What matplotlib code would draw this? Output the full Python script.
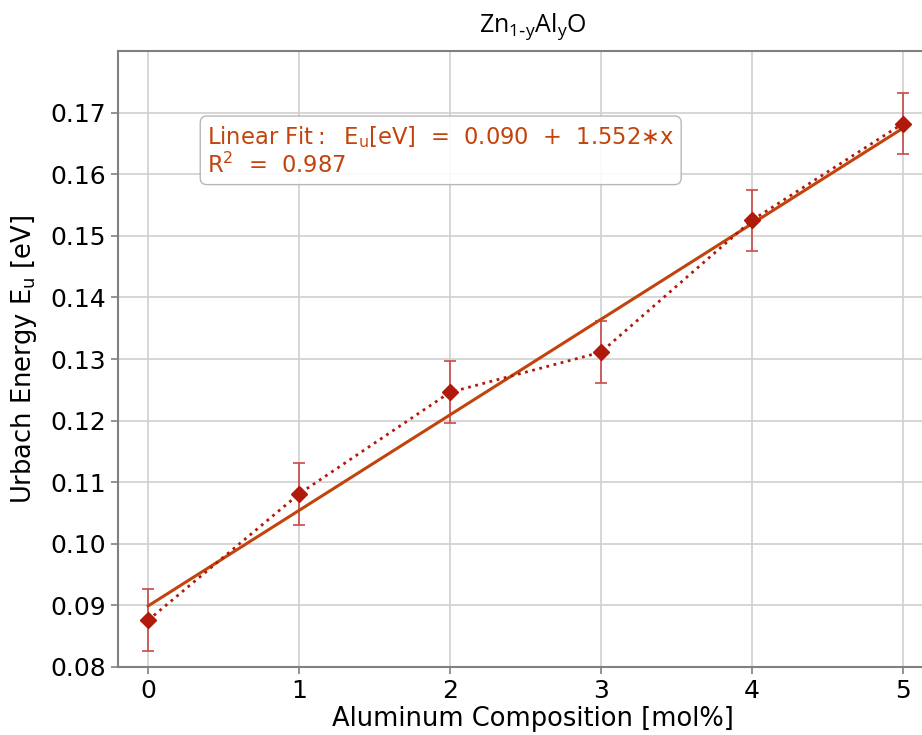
import matplotlib
matplotlib.use("Agg")
import matplotlib.pyplot as plt
import numpy as np

# Aluminum composition [mol%] and Urbach energy [eV]
composition = [0, 1, 2, 3, 4, 5]
urbach_energy = [0.0876, 0.1081, 0.1246, 0.1311, 0.1525, 0.1682]
energy_err = [0.005, 0.005, 0.005, 0.005, 0.005, 0.005]

fit_text = ("Linear Fit$\\mathregular{:}$  E$_\\mathregular{u}$[eV]  =  0.090  +  1.552$\\ast$x\n"
            "R$^\\mathregular{2}$  =  0.987")

line_color = '#c2440c'
point_color = '#b01a0a'
err_color = '#c84a4a'
spine_color = '#808080'

fig = plt.figure(figsize=(9.22, 7.35), dpi=100)
ax = fig.add_axes([118 / 922, 68 / 735, 830 / 922, 616 / 735])

x = np.array(composition)
y = np.array(urbach_energy)
slope, intercept = np.polyfit(x, y, 1)

ax.grid(True, color='#d0d0d0', linewidth=1.2)
ax.set_axisbelow(True)

ax.plot(x, slope * x + intercept, color=line_color, linewidth=2.2, zorder=3)
ax.errorbar(x, y, yerr=energy_err, fmt='none', ecolor=err_color,
            elinewidth=1.2, capsize=4, capthick=1.2, zorder=2)
ax.plot(x, y, linestyle=':', color=point_color, linewidth=2, marker='D',
        markersize=8.5, zorder=4)

ax.set_xlim(-0.2, 5.3)
ax.set_ylim(0.08, 0.18)
ax.set_xticks(composition)
ax.set_yticks(np.arange(0.08, 0.171, 0.01))
ax.yaxis.set_major_formatter(matplotlib.ticker.FormatStrFormatter('%.2f'))
ax.tick_params(labelsize=18, color=spine_color, length=5, width=1.2)

for spine in ax.spines.values():
    spine.set_color(spine_color)
    spine.set_linewidth(1.5)

ax.set_xlabel('Aluminum Composition [mol%]', fontsize=18.5, labelpad=2)
ax.set_ylabel('Urbach Energy E$_\\mathregular{u}$ [eV]', fontsize=18.5, labelpad=8)
ax.set_title('Zn$_\\mathregular{1\\text{-}y}$Al$_\\mathregular{y}$O', fontsize=18,
             family='Open Sans', pad=14)

ax.text(0.59 / 5.5, 0.882, fit_text, transform=ax.transAxes,
        fontsize=16.3, color=line_color, va='top', ha='left', linespacing=1.15,
        bbox=dict(boxstyle='round,pad=0.3', facecolor='white', edgecolor='#b0b0b0',
                  alpha=0.9))

fig.savefig('out.png', dpi=100)
